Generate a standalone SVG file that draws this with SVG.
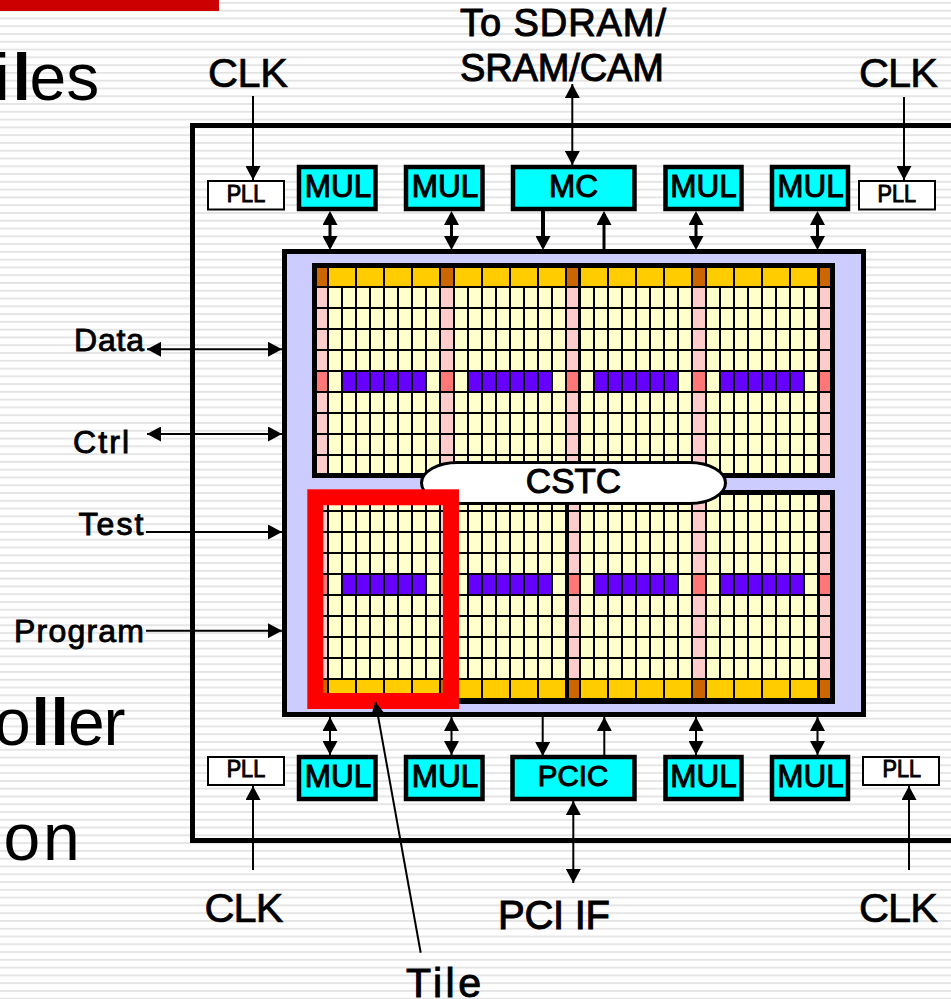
<svg xmlns="http://www.w3.org/2000/svg" xmlns:xlink="http://www.w3.org/1999/xlink" width="951" height="999" viewBox="0 0 951 999">
<style>
text{font-family:"Liberation Sans","Arial",sans-serif;fill:#000}
.m{fill:#0ff;stroke:#000;stroke-width:4.5}
.p{fill:#fff;stroke:#000;stroke-width:2}
.t{font-size:31.500px;text-anchor:middle;stroke:#000;stroke-width:1}
.pl{font-size:24px;stroke:#000;stroke-width:1}
.l{font-size:32px;stroke:#000;stroke-width:.9}
.s{font-size:38px;stroke:#000;stroke-width:1}
.b{font-size:41.500px;stroke:#000;stroke-width:.7}
.big{font-size:66px}
.c path{stroke:#000;stroke-width:2;fill:none}
.c path.h{stroke-width:3}
.c path.x{stroke-width:4}
.y{fill:#ffc}.n{fill:#fcc}.v{fill:#60f}.k{fill:#f77}.o{fill:#fc0}.d{fill:#c60}
</style>
<defs>
<pattern id="bg" width="10" height="7.78" patternUnits="userSpaceOnUse"><rect width="10" height="7.78" fill="#fff"/><rect y="2" width="10" height="1.7" fill="#e2e2e2"/></pattern>
<marker id="a" markerUnits="userSpaceOnUse" viewBox="0 0 15 15" refX="14" refY="7.5" markerWidth="15" markerHeight="15" orient="auto-start-reverse"><path d="M0 0L14 7.5L0 15Z" fill="#000"/></marker>
<marker id="ah" markerUnits="userSpaceOnUse" viewBox="0 0 15 15" refX="11" refY="7.5" markerWidth="15" markerHeight="15" orient="auto-start-reverse"><path d="M0 0L14 7.5L0 15Z" fill="#000"/></marker>
<g id="rr"><rect class="n" x="-2" width="12" height="19"/><g class="y"><rect x="12" width="12" height="19"/><rect x="26" width="12" height="19"/><rect x="40" width="12" height="19"/><rect x="54" width="12" height="19"/><rect x="68" width="12" height="19"/><rect x="82" width="12" height="19"/><rect x="96" width="12" height="19"/><rect x="110" width="12" height="19"/></g></g>
<g id="rp"><rect class="k" x="-2" width="12" height="19"/><rect class="y" x="12" width="12" height="19"/><g class="v"><rect x="26" width="12" height="19"/><rect x="40" width="12" height="19"/><rect x="54" width="12" height="19"/><rect x="68" width="12" height="19"/><rect x="82" width="12" height="19"/><rect x="96" width="12" height="19"/></g><rect class="y" x="110" width="12" height="19"/></g>
<g id="ro"><rect class="d" x="-2" width="12" height="18"/><g class="o"><rect x="12" width="26" height="18"/><rect x="40" width="26" height="18"/><rect x="68" width="26" height="18"/><rect x="96" width="26" height="18"/></g></g>
<g id="tt"><use xlink:href="#ro" y="268"/><use xlink:href="#rr" y="288"/><use xlink:href="#rr" y="309"/><use xlink:href="#rr" y="330"/><use xlink:href="#rr" y="351"/><use xlink:href="#rp" y="372"/><use xlink:href="#rr" y="393"/><use xlink:href="#rr" y="414"/><use xlink:href="#rr" y="435"/><use xlink:href="#rr" y="456"/></g>
<g id="tb"><use xlink:href="#rr" y="491"/><use xlink:href="#rr" y="512"/><use xlink:href="#rr" y="533"/><use xlink:href="#rr" y="554"/><use xlink:href="#rp" y="575"/><use xlink:href="#rr" y="596"/><use xlink:href="#rr" y="617"/><use xlink:href="#rr" y="638"/><use xlink:href="#rr" y="659"/><use xlink:href="#ro" y="680"/></g>
</defs>
<rect id="background" width="951" height="999" fill="url(#bg)"/>
<rect id="title-bar" width="219" height="11" fill="#c00"/>
<text class="big" y="100"><tspan x="-5">i</tspan><tspan x="12.500" font-weight="700">l</tspan><tspan x="29.500">es</tspan></text>
<text class="big" y="745"><tspan x="-6">o</tspan><tspan x="31.500" font-weight="700">l</tspan><tspan x="50.500" font-weight="700">l</tspan><tspan x="68">e</tspan><tspan x="103.500">r</tspan></text>
<text class="big" y="860"><tspan x="3.500">o</tspan><tspan x="43">n</tspan></text>
<g id="chip"><rect x="192.500" y="125.500" width="800" height="715" fill="none" stroke="#000" stroke-width="5"/></g>
<g id="core"><rect x="284.500" y="251.500" width="579" height="463" fill="#ccf" stroke="#000" stroke-width="5"/></g>
<g id="array-top">
<rect x="312" y="263" width="523" height="215" fill="#000"/>
<use xlink:href="#tt" x="443"/><use xlink:href="#tt" x="569"/><use xlink:href="#tt" x="695"/><use xlink:href="#tt" x="317"/>
<rect x="312" y="263" width="5" height="215" fill="#000"/>
<rect x="578" y="268" width="2" height="205" fill="#000"/>
<rect class="d" x="820" y="268" width="10" height="18"/>
<g class="n"><rect x="820" y="288" width="10" height="19"/><rect x="820" y="309" width="10" height="19"/><rect x="820" y="330" width="10" height="19"/><rect x="820" y="351" width="10" height="19"/><rect class="k" x="820" y="372" width="10" height="19"/><rect x="820" y="393" width="10" height="19"/><rect x="820" y="414" width="10" height="19"/><rect x="820" y="435" width="10" height="19"/><rect x="820" y="456" width="10" height="17"/></g>
<rect x="312" y="473" width="523" height="5" fill="#000"/>
</g>
<g id="array-bottom">
<rect x="312" y="490" width="523" height="214" fill="#000"/>
<use xlink:href="#tb" x="443"/><use xlink:href="#tb" x="569"/><use xlink:href="#tb" x="695"/><use xlink:href="#tb" x="317"/>
<rect x="312" y="490" width="523" height="5" fill="#000"/>
<rect x="312" y="490" width="5" height="214" fill="#000"/>
<rect x="566" y="495" width="3" height="203" fill="#000"/>
<g class="n"><rect x="820" y="495" width="10" height="15"/><rect x="820" y="512" width="10" height="19"/><rect x="820" y="533" width="10" height="19"/><rect x="820" y="554" width="10" height="19"/><rect class="k" x="820" y="575" width="10" height="19"/><rect x="820" y="596" width="10" height="19"/><rect x="820" y="617" width="10" height="19"/><rect x="820" y="638" width="10" height="19"/><rect x="820" y="659" width="10" height="19"/></g>
<rect class="d" x="820" y="680" width="10" height="18"/>
</g>
<g id="cstc"><rect x="421.500" y="462.500" width="304" height="41" rx="36" ry="20.500" fill="#fff" stroke="#000" stroke-width="3"/><text x="573.500" y="493" font-size="35" stroke="#000" stroke-width="1" text-anchor="middle">CSTC</text></g>
<g id="tile-highlight"><rect x="315.300" y="497.300" width="135.700" height="203.700" fill="none" stroke="#f00" stroke-width="16"/></g>
<g id="mul-t1"><rect class="m" x="299" y="167" width="76.500" height="42"/><text class="t" x="338" y="197">MUL</text></g>
<g id="mul-t2"><rect class="m" x="406" y="167" width="76.500" height="42"/><text class="t" x="445" y="197">MUL</text></g>
<g id="mc"><rect class="m" x="513" y="167" width="121.500" height="42"/><text class="t" x="573.500" y="197">MC</text></g>
<g id="mul-t3"><rect class="m" x="665.500" y="167" width="76" height="42"/><text class="t" x="703.500" y="197">MUL</text></g>
<g id="mul-t4"><rect class="m" x="772" y="167" width="76" height="42"/><text class="t" x="810.500" y="197">MUL</text></g>
<g id="mul-b1"><rect class="m" x="299" y="757" width="76.500" height="42"/><text class="t" x="338" y="787">MUL</text></g>
<g id="mul-b2"><rect class="m" x="406" y="757" width="76.500" height="42"/><text class="t" x="445" y="787">MUL</text></g>
<g id="pcic"><rect class="m" x="512.500" y="757" width="122" height="42"/><text class="t" x="573" y="786" style="font-size:29.500px">PCIC</text></g>
<g id="mul-b3"><rect class="m" x="665.500" y="757" width="76" height="42"/><text class="t" x="703.500" y="787">MUL</text></g>
<g id="mul-b4"><rect class="m" x="772" y="757" width="76" height="42"/><text class="t" x="810.500" y="787">MUL</text></g>
<g id="pll-tl"><rect class="p" x="208" y="181" width="76" height="28.500"/><text class="pl" x="226.700" y="202" textLength="38.500" lengthAdjust="spacingAndGlyphs">PLL</text></g>
<g id="pll-tr"><rect class="p" x="859" y="181" width="76" height="28.500"/><text class="pl" x="877.500" y="202" textLength="38.500" lengthAdjust="spacingAndGlyphs">PLL</text></g>
<g id="pll-bl"><rect class="p" x="208" y="757" width="76" height="28"/><text class="pl" x="226.700" y="777" textLength="38.500" lengthAdjust="spacingAndGlyphs">PLL</text></g>
<g id="pll-br"><rect class="p" x="863" y="757" width="76" height="28"/><text class="pl" x="882.500" y="777" textLength="38.500" lengthAdjust="spacingAndGlyphs">PLL</text></g>
<g id="connectors" class="c">
<path d="M253 96V180" marker-end="url(#a)"/>
<path d="M904 97V180" marker-end="url(#a)"/>
<path d="M253 870V786" marker-end="url(#a)"/>
<path d="M909 870V786" marker-end="url(#a)"/>
<path d="M572.300 84V165" marker-start="url(#a)" marker-end="url(#a)"/>
<path d="M573.300 801V883" marker-start="url(#a)" marker-end="url(#a)"/>
<path class="h" d="M330 214V247" marker-start="url(#ah)" marker-end="url(#ah)"/>
<path class="h" d="M451.500 214V247" marker-start="url(#ah)" marker-end="url(#ah)"/>
<path class="h" d="M696 214V247" marker-start="url(#ah)" marker-end="url(#ah)"/>
<path class="h" d="M817.500 214V247" marker-start="url(#ah)" marker-end="url(#ah)"/>
<path class="x" d="M543 211V247" marker-end="url(#ah)"/>
<path class="h" d="M604 250V214" marker-end="url(#ah)"/>
<path d="M330 717V755" marker-start="url(#a)" marker-end="url(#a)"/>
<path d="M451.500 717V755" marker-start="url(#a)" marker-end="url(#a)"/>
<path d="M696 717V755" marker-start="url(#a)" marker-end="url(#a)"/>
<path d="M817.500 717V755" marker-start="url(#a)" marker-end="url(#a)"/>
<path d="M542.700 717V756" marker-end="url(#a)"/>
<path d="M604.300 756V717" marker-end="url(#a)"/>
<path d="M147 349.300H282" marker-start="url(#a)" marker-end="url(#a)"/>
<path d="M147 434H282" marker-start="url(#a)" marker-end="url(#a)"/>
<path d="M146 532H282" marker-end="url(#a)"/>
<path d="M146 630.700H282" marker-end="url(#a)"/>
<path d="M420.700 952.700L375.500 702" marker-end="url(#a)"/>
</g>
<g id="labels">
<text class="s" x="460" y="36" textLength="206">To SDRAM/</text>
<text class="s" x="460" y="81" textLength="204">SRAM/CAM</text>
<text class="b" x="208" y="87" textLength="80">CLK</text>
<text class="b" x="859" y="87" textLength="79">CLK</text>
<text class="b" x="204.500" y="921.500" textLength="79">CLK</text>
<text class="b" x="859" y="921.500" textLength="79">CLK</text>
<text class="s" x="498" y="929.300" style="font-size:40px" textLength="112">PCI IF</text>
<text class="s" x="406" y="996.700" style="font-size:41px" textLength="75">Tile</text>
<text class="l" x="74" y="350.700" textLength="70">Data</text>
<text class="l" x="73" y="453.300" textLength="56">Ctrl</text>
<text class="l" x="78.500" y="535" textLength="65">Test</text>
<text class="l" x="14" y="642" textLength="130">Program</text>
</g>
</svg>
